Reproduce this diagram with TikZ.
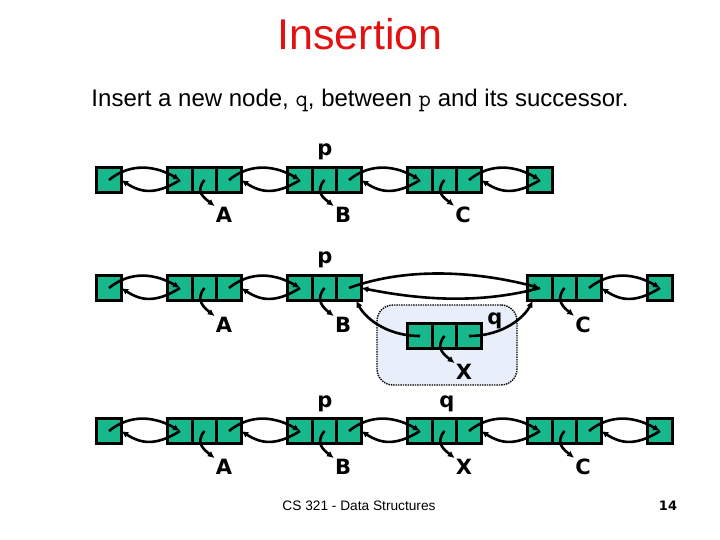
\documentclass[tikz,border=0pt]{standalone}
\usepackage{fontspec}
\setmainfont{Liberation Sans}
\newfontfamily\lblfont{DejaVu Sans}
\usetikzlibrary{positioning, arrows.meta}
\definecolor{cellgreen}{RGB}{22,184,140}
\definecolor{titlered}{RGB}{226,18,18}
\definecolor{boxblue}{RGB}{232,238,250}

\begin{document}
\begin{tikzpicture}[x=1pt, y=-1pt, cell/.style={draw, line width=2.6pt, fill=cellgreen, minimum width=24.5pt, minimum height=25pt, inner sep=0pt, outer sep=0pt, path picture={\fill (path picture bounding box.center) circle (2.6pt);}}, link/.style={line width=2.6pt, -{Latex[length=7pt, width=6.5pt]}}, tag/.style={font=\lblfont\bfseries\fontsize{21}{24}\selectfont, inner sep=1pt}]
\useasboundingbox (0,0) rectangle (720,540);
\node[text=titlered, font=\fontsize{43}{50}\selectfont, anchor=base] (title) at (360,50) {Insertion};
\node[font=\fontsize{24}{28}\selectfont, anchor=base] (sub) at (360,107) {Insert a new node, \texttt{q}, between \texttt{p} and its successor.};
% first row: before insertion
\node[cell] (h1) at (109,180) {};
\node[cell] (a1p) at (180,180) {};
\node[cell, right=0pt of a1p] (a1d) {};
\node[cell, right=0pt of a1d] (a1n) {};
\node[cell] (b1p) at (300,180) {};
\node[cell, right=0pt of b1p] (b1d) {};
\node[cell, right=0pt of b1d] (b1n) {};
\node[cell] (c1p) at (420,180) {};
\node[cell, right=0pt of c1p] (c1d) {};
\node[cell, right=0pt of c1d] (c1n) {};
\node[cell] (t1) at (540,180) {};
\node[tag] (p1) at (325,152) {p};
\node[tag] (la1) at (224,215) {A};
\node[tag] (lb1) at (343,215) {B};
\node[tag] (lc1) at (463,215) {C};
\draw[link] (h1.center) .. controls +(22,-18) and +(-24,-14) .. (a1p.center);
\draw[link] (a1p.center) .. controls +(-24,15) and +(20,13) .. (h1.east);
\draw[link] (a1n.center) .. controls +(22,-18) and +(-24,-14) .. (b1p.center);
\draw[link] (b1p.center) .. controls +(-24,15) and +(20,13) .. (a1n.east);
\draw[link] (b1n.center) .. controls +(22,-18) and +(-24,-14) .. (c1p.center);
\draw[link] (c1p.center) .. controls +(-24,15) and +(20,13) .. (b1n.east);
\draw[link] (c1n.center) .. controls +(22,-18) and +(-24,-14) .. (t1.center);
\draw[link] (t1.center) .. controls +(-24,15) and +(20,13) .. (c1n.east);
\draw[link] (a1d.center) .. controls +(-10,12) and +(-10,-8) .. (la1.north west);
\draw[link] (b1d.center) .. controls +(-10,12) and +(-10,-8) .. (lb1.north west);
\draw[link] (c1d.center) .. controls +(-10,12) and +(-10,-8) .. (lc1.north west);
% second row: new node q linked in
\node[draw, densely dotted, line width=1.4pt, rounded corners=16pt, fill=boxblue, minimum width=140pt, minimum height=80pt] (qbox) at (447,345) {};
\node[cell] (h2) at (109,288) {};
\node[cell] (a2p) at (180,288) {};
\node[cell, right=0pt of a2p] (a2d) {};
\node[cell, right=0pt of a2d] (a2n) {};
\node[cell] (b2p) at (300,288) {};
\node[cell, right=0pt of b2p] (b2d) {};
\node[cell, right=0pt of b2d] (b2n) {};
\node[cell] (q2p) at (420,336) {};
\node[cell, right=0pt of q2p] (q2d) {};
\node[cell, right=0pt of q2d] (q2n) {};
\node[cell] (c2p) at (540,288) {};
\node[cell, right=0pt of c2p] (c2d) {};
\node[cell, right=0pt of c2d] (c2n) {};
\node[cell] (t2) at (660,288) {};
\node[tag] (p2) at (325,260) {p};
\node[tag] (q2) at (495,321) {q};
\node[tag] (la2) at (224,325) {A};
\node[tag] (lb2) at (343,325) {B};
\node[tag] (lx2) at (464,372) {X};
\node[tag] (lc2) at (583,325) {C};
\draw[link] (h2.center) .. controls +(22,-18) and +(-24,-14) .. (a2p.center);
\draw[link] (a2p.center) .. controls +(-24,15) and +(20,13) .. (h2.east);
\draw[link] (a2n.center) .. controls +(22,-18) and +(-24,-14) .. (b2p.center);
\draw[link] (b2p.center) .. controls +(-24,15) and +(20,13) .. (a2n.east);
\draw[link] (b2n.center) .. controls +(60,-22) and +(-60,-16) .. (c2p.center);
\draw[link] (c2p.center) .. controls +(-60,16) and +(60,12) .. (b2n.east);
\draw[link] (c2n.center) .. controls +(22,-18) and +(-24,-14) .. (t2.center);
\draw[link] (t2.center) .. controls +(-24,15) and +(20,13) .. (c2n.east);
\draw[link] (q2p.center) .. controls +(-35,0) and +(8,16) .. (b2n.-60);
\draw[link] (q2n.center) .. controls +(35,0) and +(-8,16) .. (c2p.-120);
\draw[link] (a2d.center) .. controls +(-10,12) and +(-10,-8) .. (la2.north west);
\draw[link] (b2d.center) .. controls +(-10,12) and +(-10,-8) .. (lb2.north west);
\draw[link] (q2d.center) .. controls +(-10,12) and +(-10,-8) .. (lx2.north west);
\draw[link] (c2d.center) .. controls +(-10,12) and +(-10,-8) .. (lc2.north west);
% third row: after insertion
\node[cell] (h3) at (109,431) {};
\node[cell] (a3p) at (180,431) {};
\node[cell, right=0pt of a3p] (a3d) {};
\node[cell, right=0pt of a3d] (a3n) {};
\node[cell] (b3p) at (300,431) {};
\node[cell, right=0pt of b3p] (b3d) {};
\node[cell, right=0pt of b3d] (b3n) {};
\node[cell] (x3p) at (420,431) {};
\node[cell, right=0pt of x3p] (x3d) {};
\node[cell, right=0pt of x3d] (x3n) {};
\node[cell] (c3p) at (540,431) {};
\node[cell, right=0pt of c3p] (c3d) {};
\node[cell, right=0pt of c3d] (c3n) {};
\node[cell] (t3) at (660,431) {};
\node[tag] (p3) at (325,404) {p};
\node[tag] (q3) at (447,404) {q};
\node[tag] (la3) at (224,467) {A};
\node[tag] (lb3) at (343,467) {B};
\node[tag] (lx3) at (464,467) {X};
\node[tag] (lc3) at (583,467) {C};
\draw[link] (h3.center) .. controls +(22,-18) and +(-24,-14) .. (a3p.center);
\draw[link] (a3p.center) .. controls +(-24,15) and +(20,13) .. (h3.east);
\draw[link] (a3n.center) .. controls +(22,-18) and +(-24,-14) .. (b3p.center);
\draw[link] (b3p.center) .. controls +(-24,15) and +(20,13) .. (a3n.east);
\draw[link] (b3n.center) .. controls +(22,-18) and +(-24,-14) .. (x3p.center);
\draw[link] (x3p.center) .. controls +(-24,15) and +(20,13) .. (b3n.east);
\draw[link] (x3n.center) .. controls +(22,-18) and +(-24,-14) .. (c3p.center);
\draw[link] (c3p.center) .. controls +(-24,15) and +(20,13) .. (x3n.east);
\draw[link] (c3n.center) .. controls +(22,-18) and +(-24,-14) .. (t3.center);
\draw[link] (t3.center) .. controls +(-24,15) and +(20,13) .. (c3n.east);
\draw[link] (a3d.center) .. controls +(-10,12) and +(-10,-8) .. (la3.north west);
\draw[link] (b3d.center) .. controls +(-10,12) and +(-10,-8) .. (lb3.north west);
\draw[link] (x3d.center) .. controls +(-10,12) and +(-10,-8) .. (lx3.north west);
\draw[link] (c3d.center) .. controls +(-10,12) and +(-10,-8) .. (lc3.north west);
\node[font=\fontsize{13.7}{16}\selectfont, anchor=base] (foot) at (359,510) {CS 321 - Data Structures};
\node[font=\lblfont\bfseries\fontsize{13}{15}\selectfont, anchor=base] (page) at (668,510) {14};
\end{tikzpicture}
\end{document}
